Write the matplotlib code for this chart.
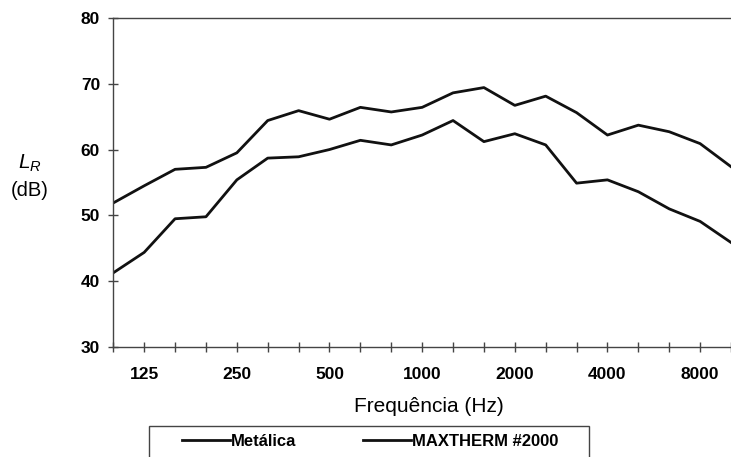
import numpy as np
import matplotlib
matplotlib.use("Agg")
import matplotlib.pyplot as plt
from matplotlib.patches import Rectangle

plt.rcParams['font.family'] = ['Liberation Sans', 'DejaVu Sans']
plt.rcParams['mathtext.fontset'] = 'custom'
plt.rcParams['mathtext.rm'] = 'Liberation Sans'
plt.rcParams['mathtext.it'] = 'Liberation Sans:italic'

# --- dados (bandas de 1/3 de oitava) ---
freqs = ['100', '125', '160', '200', '250', '315', '400', '500', '630', '800',
         '1000', '1250', '1600', '2000', '2500', '3150', '4000', '5000',
         '6300', '8000', '10000']
metalica = [51.9, 54.5, 57.0, 57.3, 59.5, 64.4, 65.9, 64.6, 66.4, 65.7,
            66.4, 68.6, 69.4, 66.7, 68.1, 65.6, 62.2, 63.7, 62.7, 60.9, 57.4]
maxtherm = [41.3, 44.4, 49.5, 49.8, 55.4, 58.7, 58.9, 60.0, 61.4, 60.7,
            62.2, 64.4, 61.2, 62.4, 60.7, 54.9, 55.4, 53.6, 51.0, 49.1, 45.9]
labelled = ['125', '250', '500', '1000', '2000', '4000', '8000']

W, H = 731, 457
fig = plt.figure(figsize=(W / 100, H / 100), dpi=100)
ax = fig.add_axes([113.3 / W, 1 - 347.3 / H, 1 - 113.3 / W, (347.3 - 17.7) / H])

x = np.arange(len(freqs))
ax.plot(x, metalica, color='#111111', lw=2.0, label='Metálica')
ax.plot(x, maxtherm, color='#111111', lw=2.0, label='MAXTHERM #2000')

ax.set_xlim(0, 19.8)
ax.set_ylim(30, 80)
ax.set_yticks(range(30, 81, 10))
ax.set_xticks(x)
ax.set_xticklabels([f if f in labelled else '' for f in freqs])

for s in ['left', 'bottom', 'top']:
    ax.spines[s].set_color('#444444')
    ax.spines[s].set_linewidth(1.0)
ax.spines['right'].set_visible(False)

ax.tick_params(axis='both', direction='inout', length=7, width=1.0,
               color='#444444', labelsize=12.5)
ax.tick_params(axis='x', pad=11)
ax.tick_params(axis='y', pad=6)
for lab in ax.get_xticklabels() + ax.get_yticklabels():
    lab.set_fontweight('bold')

# rótulos dos eixos
fig.text(30 / W, 1 - 163 / H, r'$L_R$', ha='center', va='center', fontsize=15)
fig.text(30 / W, 1 - 191 / H, '(dB)', ha='center', va='center', fontsize=14.5)
fig.text(429 / W, 1 - 407 / H, 'Frequência (Hz)', ha='center', va='center', fontsize=15)

# legenda
fig.legend(loc='center left', bbox_to_anchor=(181.7 / W, 1 - 441.7 / H),
           ncol=2, frameon=False, borderpad=0, borderaxespad=0,
           handlelength=2.9, handletextpad=0.05, columnspacing=4.0,
           prop={'size': 12, 'weight': 'bold'})
fig.patches.append(Rectangle((149 / W, -0.05), (589 - 149) / W, 0.05 + (457 - 426) / H,
                             transform=fig.transFigure, fill=False,
                             edgecolor='#444444', lw=1.0))

fig.savefig('out.png', dpi=100)
